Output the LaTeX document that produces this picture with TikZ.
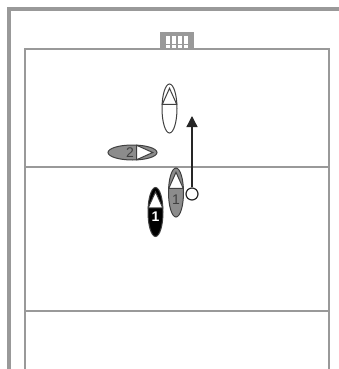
\documentclass[tikz,border=0pt]{standalone}
\usepackage{fontspec}
\setmainfont{Liberation Sans}
\usepackage{xcolor}
\usetikzlibrary{arrows.meta,shapes.geometric}
\definecolor{linegray}{HTML}{999999}

\begin{document}
\begin{tikzpicture}[x=1pt,y=-1pt,
  line/.style={draw=linegray, line width=1.5pt},
  wall/.style={draw=linegray, line width=4.5pt},
  ath/.style={ellipse, draw=black!75, fill=#1, line width=1pt, inner sep=0pt, minimum width=49pt, minimum height=15pt},
  ath/.default=white,
  tip/.style={isosceles triangle, isosceles triangle stretches, draw=black!75, fill=white, inner sep=0pt, minimum width=14.4pt, minimum height=16pt, line width=1pt, anchor=apex},
  num/.style={font=\fontsize{14}{14}\selectfont, inner sep=0pt, text=black!75},
  cell/.style={fill=white, minimum width=4.6pt, minimum height=3.4pt, inner sep=0pt},
  arr/.style={-{Stealth[length=11pt,width=11pt,inset=0pt]}, line width=1.3pt, draw=black!85}]
\useasboundingbox (0,0) rectangle (339,369);
% hall and court
\coordinate (wl) at (9,369);
\coordinate (wc) at (9,9);
\coordinate (wr) at (339,9);
\draw[wall] (wl)--(wc)--(wr);
\node[fill=linegray, minimum width=34pt, minimum height=16pt, inner sep=0pt] (goal) at (177,40) {};
\foreach \gx in {168,174,180,186} \foreach \gy in {38,42,46.5}
  \node[cell] (c\gx\gy) at (\gx,\gy) {};
\coordinate (cl) at (25,369);
\coordinate (ctl) at (25,49);
\coordinate (ctr) at (329,49);
\coordinate (cr) at (329,369);
\draw[line] (cl)--(ctl)--(ctr)--(cr);
\coordinate (ml) at (25,167);
\coordinate (mr) at (329,167);
\coordinate (al) at (25,311);
\coordinate (ar) at (329,311);
\draw[line] (ml)--(mr);
\draw[line] (al)--(ar);
% players
\node[ath, rotate=90] (top) at (169.5,108.5) {};
\node[tip, rotate=90] (toptip) at (169.5,87) {};
\node[ath=black!45, rotate=0] (two) at (132.5,152.5) {};
\node[tip, rotate=0] (twotip) at (154,152.5) {};
\node[num] (twonum) at (130,152.5) {2};
\node[ath=black!45, rotate=90] (one) at (176,192.5) {};
\node[tip, rotate=90] (onetip) at (176,171) {};
\node[num] (onenum) at (176,200) {1};
\node[ath=black, rotate=90] (opp) at (155.5,212) {};
\node[tip, rotate=90] (opptip) at (155.5,190.5) {};
\node[num, text=white, font=\fontsize{14}{14}\selectfont\bfseries] (oppnum) at (155.5,217) {1};
% ball and run
\node[circle, draw=black!85, fill=white, line width=1.2pt, minimum size=12pt, inner sep=0pt] (ball) at (192,194) {};
\coordinate (shot) at (192,116);
\draw[arr] (ball)--(shot);
\end{tikzpicture}
\end{document}
